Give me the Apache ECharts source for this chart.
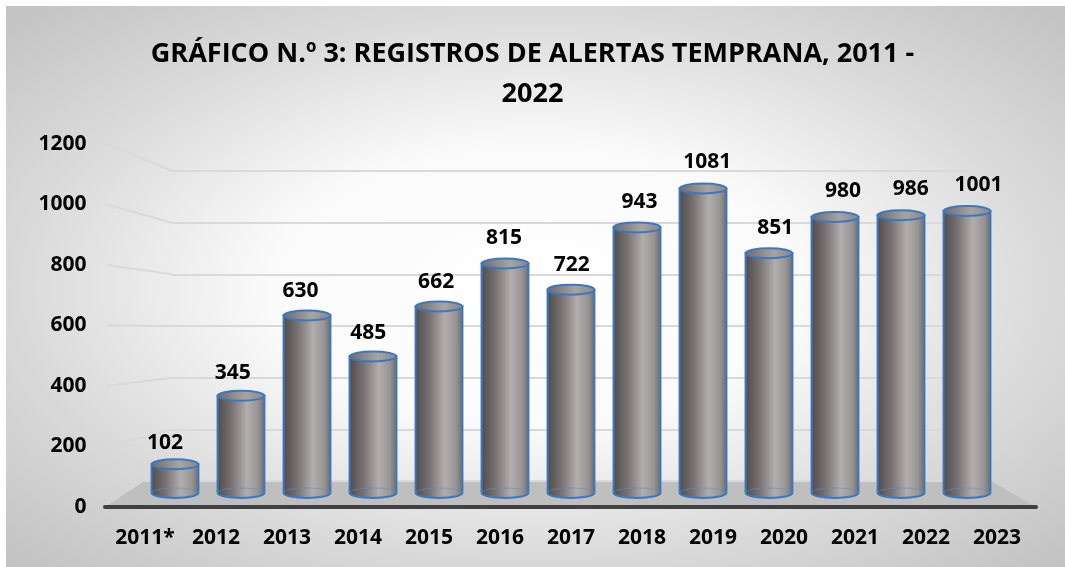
<!DOCTYPE html>
<html>
<head>
<meta charset="utf-8">
<script src="https://cdn.jsdelivr.net/npm/echarts@6/dist/echarts.min.js"></script>
<style>
  html, body { margin: 0; padding: 0; background: #ffffff; }
  #chart { width: 1065px; height: 567px; }
</style>
</head>
<body>
<div id="chart"></div>
<script>
// data
const years = ['2011*', '2012', '2013', '2014', '2015', '2016', '2017', '2018', '2019', '2020', '2021', '2022', '2023']
const alertas = [102, 345, 630, 485, 662, 815, 722, 943, 1081, 851, 980, 986, 1001]
const yTicks = [0, 200, 400, 600, 800, 1000, 1200]
const titleText = 'GRÁFICO N.º 3: REGISTROS DE ALERTAS TEMPRANA, 2011 -\n2022'

const FONT = '"Open Sans", Lato, sans-serif'
const OUTLINE = '#3a78c4'
const GRID_COLOR = '#d9d9d9'

// fake 3d layout: front edge, back wall, bar plane, label plane
const FRONT = { left: 109.5, right: 32.5, top: 144, bottom: 60 }
const BACK = { left: 172, right: 93, top: 171, bottom: 86 }
const BARS = { left: 142, right: 65, top: 155, bottom: 74 }
const LABELS = { left: 131, right: 52.5, top: 128, bottom: 95 }
const FLOOR = { frontY: 507, backY: 482, frontLeft: 105, frontRight: 1036, backLeft: 143, backRight: 993 }

let yMin = yTicks[0]
let yMax = yTicks[yTicks.length - 1]
let yStep = yTicks[1] - yTicks[0]

function valueAxis(gridIndex, showLabels, showSplit) {
  return {
    type: 'value',
    gridIndex: gridIndex,
    min: yMin,
    max: yMax,
    interval: yStep,
    axisLine: { show: false },
    axisTick: { show: false },
    axisLabel: {
      show: showLabels,
      color: '#000',
      fontSize: 21,
      fontWeight: 'bold',
      fontFamily: FONT,
      margin: 23,
      formatter: v => String(v)
    },
    splitLine: {
      show: showSplit,
      lineStyle: { color: GRID_COLOR, width: 2 }
    }
  }
}

function categoryAxis(gridIndex, showLabels) {
  return {
    type: 'category',
    gridIndex: gridIndex,
    data: years,
    boundaryGap: true,
    axisLine: { show: false },
    axisTick: { show: false },
    axisLabel: {
      show: showLabels,
      interval: 0,
      color: '#000',
      fontSize: 21,
      fontWeight: 'bold',
      fontFamily: FONT,
      margin: 21
    },
    splitLine: { show: false }
  }
}

function renderCylinder(params, api) {
  let idx = api.value(0)
  let top = api.coord([idx, api.value(1)])
  let base = api.coord([idx, 0])
  let band = api.size([1, 0])[0]
  let rx = band * 0.355
  let ry = 5
  let cx = top[0]
  let body = 'M' + (cx - rx) + ' ' + top[1] +
    ' L' + (cx - rx) + ' ' + base[1] +
    ' A' + rx + ' ' + ry + ' 0 0 0 ' + (cx + rx) + ' ' + base[1] +
    ' L' + (cx + rx) + ' ' + top[1] + ' Z'
  let backArc = 'M' + (cx - rx) + ' ' + base[1] +
    ' A' + rx + ' ' + ry + ' 0 0 1 ' + (cx + rx) + ' ' + base[1]
  return {
    type: 'group',
    children: [
      {
        type: 'path',
        shape: { pathData: body },
        style: {
          fill: new echarts.graphic.LinearGradient(0, 0, 1, 0, [
            { offset: 0, color: '#4f4a4a' },
            { offset: 0.3, color: '#777171' },
            { offset: 0.62, color: '#b2aead' },
            { offset: 0.85, color: '#999494' },
            { offset: 1, color: '#6c6767' }
          ]),
          stroke: OUTLINE,
          lineWidth: 2
        }
      },
      {
        type: 'path',
        shape: { pathData: backArc },
        style: { fill: null, stroke: 'rgba(90, 140, 210, 0.6)', lineWidth: 1 }
      },
      {
        type: 'ellipse',
        shape: { cx: cx, cy: top[1], rx: rx, ry: ry },
        style: {
          fill: new echarts.graphic.LinearGradient(0, 0, 1, 0, [
            { offset: 0, color: '#6f6a6a' },
            { offset: 0.6, color: '#a8a4a3' },
            { offset: 1, color: '#8a8585' }
          ]),
          stroke: OUTLINE,
          lineWidth: 2
        }
      }
    ]
  }
}

function renderValueLabel(params, api) {
  let p = api.coord([api.value(0), api.value(1)])
  return {
    type: 'text',
    x: p[0],
    y: p[1],
    style: {
      text: String(api.value(1)),
      fill: '#000',
      fontSize: 21,
      fontWeight: 'bold',
      fontFamily: FONT,
      align: 'center',
      verticalAlign: 'middle'
    }
  }
}

let seriesData = alertas.map((v, i) => [i, v])

let option = {
  animation: false,
  textStyle: { fontFamily: FONT },
  title: {
    text: titleText,
    left: 'center',
    top: 29,
    textStyle: {
      color: '#000',
      fontSize: 27,
      fontWeight: 'bold',
      fontFamily: FONT,
      lineHeight: 40
    }
  },
  grid: [
    Object.assign({}, FRONT),
    Object.assign({}, BACK),
    Object.assign({}, BARS),
    Object.assign({}, LABELS)
  ],
  xAxis: [
    categoryAxis(0, true),
    categoryAxis(1, false),
    categoryAxis(2, false),
    categoryAxis(3, false)
  ],
  yAxis: [
    valueAxis(0, true, false),
    valueAxis(1, false, true),
    valueAxis(2, false, false),
    valueAxis(3, false, false)
  ],
  series: [
    {
      name: 'Alertas',
      type: 'custom',
      xAxisIndex: 2,
      yAxisIndex: 2,
      z: 3,
      renderItem: renderCylinder,
      encode: { x: 0, y: 1 },
      data: seriesData
    },
    {
      name: 'Etiquetas',
      type: 'custom',
      xAxisIndex: 3,
      yAxisIndex: 3,
      z: 4,
      renderItem: renderValueLabel,
      encode: { x: 0, y: 1 },
      data: seriesData
    }
  ]
}

let chart = echarts.init(document.getElementById('chart'))
chart.setOption(option)

// background, floor and the slanted part of the gridlines
let graphics = [
  {
    type: 'rect',
    id: 'bg',
    z: -10,
    x: 6,
    y: 6,
    scaleX: 1059 / 561,
    shape: { x: 0, y: 0, width: 561, height: 561 },
    style: {
      fill: new echarts.graphic.RadialGradient(0.5, 0.5, 0.72, [
        { offset: 0, color: '#ffffff' },
        { offset: 0.35, color: '#fafafa' },
        { offset: 0.65, color: '#dcdcdc' },
        { offset: 0.95, color: '#c4c4c4' },
        { offset: 1, color: '#c2c2c2' }
      ])
    }
  },
  {
    type: 'polygon',
    id: 'floor',
    z: 1,
    shape: {
      points: [
        [FLOOR.backLeft, FLOOR.backY],
        [FLOOR.backRight, FLOOR.backY],
        [FLOOR.frontRight, FLOOR.frontY],
        [FLOOR.frontLeft, FLOOR.frontY]
      ]
    },
    style: { fill: '#bfbfbf' }
  },
  {
    type: 'line',
    id: 'floorEdge',
    z: 1,
    shape: { x1: FLOOR.frontLeft, y1: FLOOR.frontY, x2: FLOOR.frontRight, y2: FLOOR.frontY },
    style: { stroke: '#404040', lineWidth: 4, lineCap: 'round' }
  }
]

yTicks.filter(v => v > 0).forEach((v, i) => {
  let yFront = chart.convertToPixel({ yAxisIndex: 0 }, v)
  let yBack = chart.convertToPixel({ yAxisIndex: 1 }, v)
  graphics.push({
    type: 'polyline',
    id: 'slant' + i,
    z: -5,
    shape: { points: [[FLOOR.frontLeft + 2, yFront], [BACK.left, yBack]] },
    style: { fill: null, stroke: GRID_COLOR, lineWidth: 2 }
  })
})

chart.setOption({ graphic: graphics })
</script>
</body>
</html>
